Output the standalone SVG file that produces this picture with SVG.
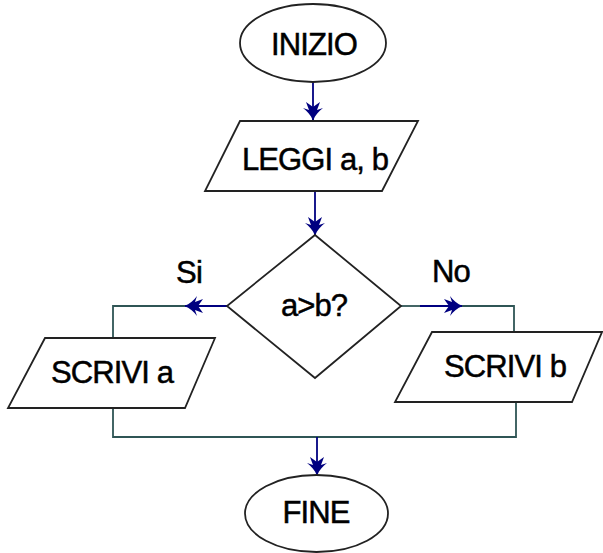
<svg xmlns="http://www.w3.org/2000/svg" width="603" height="553" viewBox="0 0 603 553">
<style>
.shape{fill:#fff;stroke:#222;stroke-width:1.8}
.t{font-family:"Liberation Sans",Arial,sans-serif;font-size:31px;letter-spacing:-0.9px;fill:#000;stroke:#000;stroke-width:0.5;text-anchor:middle}
.nav{fill:none;stroke:#000080;stroke-width:1.8}
.teal{fill:none;stroke:#2f5555;stroke-width:1.8}
</style>
<defs>
<marker id="ah" markerUnits="userSpaceOnUse" markerWidth="22" markerHeight="22" viewBox="0 -11 20 22" refX="18" refY="0" orient="auto">
<path d="M19,0 C13,-2 9,-6 6,-10 L8,-4 L0,-7 L5,0 L0,7 L8,4 L6,10 C9,6 13,2 19,0 Z" fill="#000080"/>
</marker>
</defs>
<rect width="603" height="553" fill="#fff"/>
<g id="connectors">
<line class="nav" x1="313" y1="82" x2="313" y2="120" marker-end="url(#ah)"/>
<line class="nav" x1="315" y1="191" x2="315" y2="235" marker-end="url(#ah)"/>
<line class="nav" x1="227" y1="306" x2="185" y2="306" marker-end="url(#ah)"/>
<polyline class="teal" points="185,306 113,306 113,338"/>
<line class="teal" x1="401" y1="306" x2="420" y2="306"/>
<line class="nav" x1="420" y1="306" x2="462" y2="306" marker-end="url(#ah)"/>
<polyline class="teal" points="462,306 514,306 514,332"/>
<polyline class="teal" points="113,408 113,437 516,437 516,402"/>
<line class="nav" x1="317" y1="437" x2="317" y2="475" marker-end="url(#ah)"/>
</g>
<g id="inizio">
<ellipse class="shape" cx="313" cy="43" rx="73" ry="39"/>
<text class="t" x="314" y="55">INIZIO</text>
</g>
<g id="leggi">
<polygon class="shape" points="240,121 418,121 382,191 205,191"/>
<text class="t" x="315" y="170">LEGGI a, b</text>
</g>
<g id="decisione">
<polygon class="shape" points="315,235 401,306 315,378 227,306"/>
<text class="t" x="314" y="316">a&gt;b?</text>
</g>
<g id="label-si">
<text class="t" x="189" y="283">Si</text>
</g>
<g id="label-no">
<text class="t" x="451" y="282">No</text>
</g>
<g id="scrivi-a">
<polygon class="shape" points="45,338 215,338 185,408 8,408"/>
<text class="t" x="112" y="383">SCRIVI a</text>
</g>
<g id="scrivi-b">
<polygon class="shape" points="432,332 602,332 572,402 395,402"/>
<text class="t" x="505" y="377">SCRIVI b</text>
</g>
<g id="fine">
<ellipse class="shape" cx="316.5" cy="513.5" rx="71.5" ry="38.5"/>
<text class="t" x="316" y="523">FINE</text>
</g>
</svg>
